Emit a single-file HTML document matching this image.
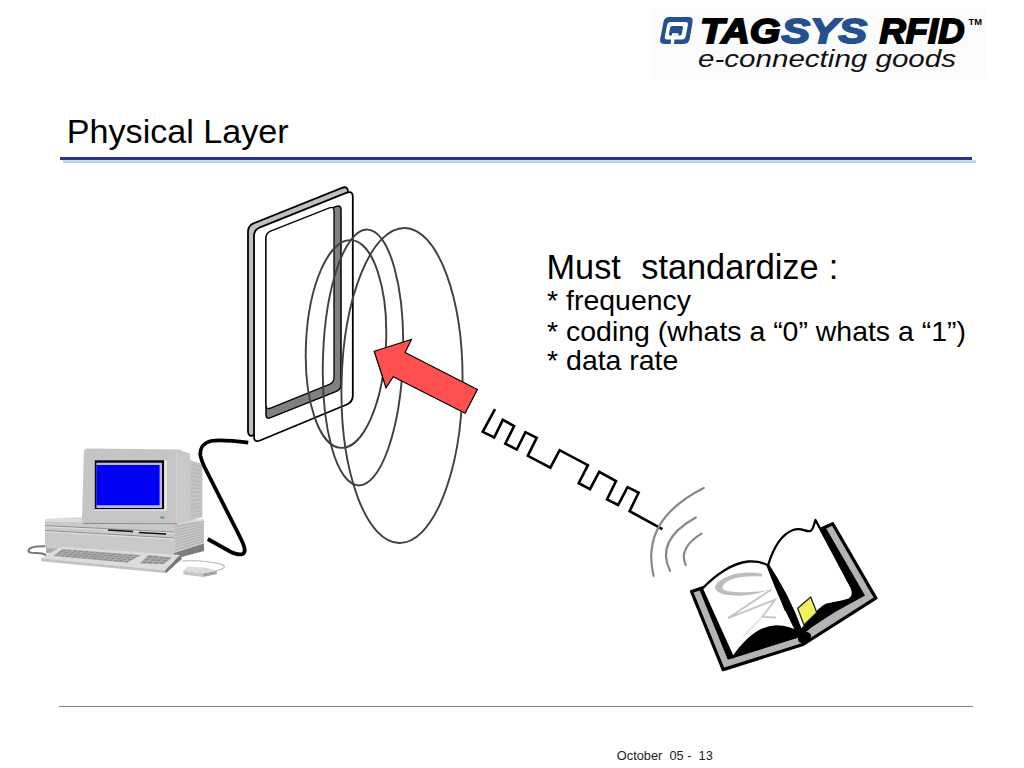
<!DOCTYPE html>
<html><head><meta charset="utf-8">
<style>
html,body{margin:0;padding:0;background:#fff;}
body{width:1024px;height:768px;position:relative;overflow:hidden;font-family:"Liberation Sans",sans-serif;color:#000;}
.t{position:absolute;white-space:nowrap;line-height:1;}
svg{position:absolute;left:0;top:0;}
</style></head><body>
<svg width="1024" height="768" viewBox="0 0 1024 768">
<!-- LOGO -->
<rect x="651.5" y="8" width="335.5" height="71.5" fill="#fbfbfb"/>
<g id="qicon">
  <path d="M663.5,21.8 Q664.5,16.9 669.5,16.9 L688.5,16.9 Q693.5,16.9 692.6,21.8 L689.7,39.0 Q688.8,43.9 683.8,43.9 L664.2,43.9 Q659.2,43.9 660.2,39.0 Z" fill="#24508f"/>
  <path d="M667.1,25.0 Q667.7,22.1 670.7,22.1 L685.5,22.1 Q688.5,22.1 687.9,25.0 L685.6,36.5 Q685.0,39.4 682.0,39.4 L667.2,39.4 Q664.2,39.4 664.8,36.5 Z" fill="#fff"/>
  <path d="M670.2,27.6 Q670.5,26.1 672.0,26.1 L681.8,26.1 Q683.3,26.1 683.0,27.6 L681.8,33.9 Q681.5,35.4 680.0,35.4 L670.1,35.4 Q668.6,35.4 668.9,33.9 Z" fill="#24508f"/>
  <polygon points="672.2,33.3 678.6,33.3 678.2,35.8 671.7,35.8" fill="#fff"/>
  <polygon points="671.2,38.8 674.6,38.8 673.9,44.6 670.5,44.6" fill="#fff"/>
</g>
<g font-family="Liberation Sans" font-weight="bold" font-style="italic" font-size="35">
  <text x="700" y="42.8" textLength="80.5" lengthAdjust="spacingAndGlyphs" fill="#000" stroke="#000" stroke-width="1.8">TAG</text>
  <text x="781.5" y="42.8" textLength="85.5" lengthAdjust="spacingAndGlyphs" fill="#24508f" stroke="#24508f" stroke-width="1.8">SYS</text>
  <text x="879.5" y="42.8" textLength="85" lengthAdjust="spacingAndGlyphs" fill="#000" stroke="#000" stroke-width="1.8">RFID</text>
  <text x="968.5" y="25.3" font-size="8.5" font-style="normal" textLength="13.5" lengthAdjust="spacingAndGlyphs" fill="#000">TM</text>
</g>
<text x="698" y="67.2" font-family="Liberation Sans" font-style="italic" font-size="24" textLength="258" lengthAdjust="spacingAndGlyphs" fill="#111">e-connecting goods</text>
<!-- COMPUTER -->
<g id="computer">
  <!-- left cord -->
  <path d="M47,546.3 C38,546 29,547 28.5,550.5 C28,554 36,552.5 42,553.5 C45,554 47,556 49,557" fill="none" stroke="#777" stroke-width="2"/>
  <!-- base recess -->
  <polygon points="46,543 60,544 60,554 46,553" fill="#a9a9a9"/>
  <!-- base side -->
  <polygon points="174,524 204,519.5 204,543.5 174,553" fill="#c8c8c8"/>
  <g stroke="#a9a9a9" stroke-width="0.8">
  <line x1="175" y1="526.9" x2="203.5" y2="521.9"/>
  <line x1="175" y1="529.8" x2="203.5" y2="524.3"/>
  <line x1="175" y1="532.7" x2="203.5" y2="526.7"/>
  <line x1="175" y1="535.6" x2="203.5" y2="529.1"/>
  <line x1="175" y1="538.5" x2="203.5" y2="531.5"/>
  <line x1="175" y1="541.4" x2="203.5" y2="533.9"/>
  <line x1="175" y1="544.3" x2="203.5" y2="536.3"/>
  <line x1="175" y1="547.2" x2="203.5" y2="538.7"/>
  <line x1="175" y1="550.1" x2="203.5" y2="541.1"/>
  </g>
  <polygon points="174,553 204,543.5 204,551 181.5,557 166,571 166,573 174,566" fill="#7c7c7c"/>
  <!-- base front -->
  <polygon points="45,519 174,522.5 174,557 45,548" fill="#c9c9c9"/>
  <polygon points="45,519 96,516 174,520.5 204,519 204,520.5 174,524.5 45,521.5" fill="#dcdcdc"/>
  <path d="M45,525.6 L174,532 M45,530.5 L174,538" stroke="#8a8a8a" stroke-width="0.9" fill="none"/>
  <path d="M45,526.8 L174,533.2 M45,531.7 L174,539.2" stroke="#e6e6e6" stroke-width="0.8" fill="none"/>
  <path d="M108,530 L133,531.5 M139,532.5 L166,534" stroke="#111" stroke-width="1.6"/>
  <!-- monitor side -->
  <polygon points="190,459.9 202.4,464 202.4,517.3 190,520.8" fill="#c4c4c4"/>
  <g stroke="#b2b2b2" stroke-width="0.7">
  <line x1="190.5" y1="464.0" x2="202" y2="467.6"/>
  <line x1="190.5" y1="468.0" x2="202" y2="471.1"/>
  <line x1="190.5" y1="472.1" x2="202" y2="474.7"/>
  <line x1="190.5" y1="476.1" x2="202" y2="478.2"/>
  <line x1="190.5" y1="480.2" x2="202" y2="481.8"/>
  <line x1="190.5" y1="484.3" x2="202" y2="485.3"/>
  <line x1="190.5" y1="488.3" x2="202" y2="488.9"/>
  <line x1="190.5" y1="492.4" x2="202" y2="492.4"/>
  <line x1="190.5" y1="496.4" x2="202" y2="496.0"/>
  <line x1="190.5" y1="500.5" x2="202" y2="499.5"/>
  <line x1="190.5" y1="504.6" x2="202" y2="503.1"/>
  <line x1="190.5" y1="508.6" x2="202" y2="506.6"/>
  <line x1="190.5" y1="512.7" x2="202" y2="510.2"/>
  <line x1="190.5" y1="516.7" x2="202" y2="513.7"/>
  </g>
  <!-- monitor front -->
  <path d="M82,521 L83.8,452.5 Q84,448.5 88,448.5 L179,449.4 L190.1,454 L190.1,520.8 L176.6,523.7 L84,523.2 Z" fill="#c5c5c5"/>
  <path d="M176.6,452 L190.1,454 L190.1,520.8 L176.6,523.7 Z" fill="#c9c9c9"/>
  <line x1="176.6" y1="452" x2="176.6" y2="523.5" stroke="#d6d6d6" stroke-width="0.7"/>
  <line x1="83" y1="523.4" x2="177" y2="523.8" stroke="#8c8c8c" stroke-width="1"/>
  <polygon points="94.8,460.3 164.3,460.3 164.3,509.3 94.8,509.3" fill="#0a0a0a"/>
  <polygon points="164.3,460.3 166.7,460.3 166.7,511 164.3,511" fill="#eeeeee"/>
  <polygon points="94.8,509.3 166.7,509.3 166.7,511 94.8,511" fill="#dddddd"/>
  <polygon points="96.4,462.7 162,462.7 162,508 96.4,508" fill="#b8b8f8"/>
  <polygon points="96.4,464.9 159.6,464.9 159.6,505.2 96.4,505.2" fill="#0000f2"/>
  <rect x="160.2" y="516.5" width="4.1" height="2" fill="#5aa05a"/>
  <!-- keyboard -->
  <polygon points="60.7,546.8 180.3,555.1 165.2,570.3 41,558.2" fill="#dcdcdc"/>
  <polygon points="41,558.2 165.2,570.3 165.2,573 41,561.2" fill="#c2c2c2"/>
  <polygon points="180.3,555.1 165.2,570.3 165.2,573 182,559" fill="#767676"/>
  <polygon points="62.2,549.1 141.0,555.1 127.3,562.7 53.2,555.9" fill="#b4b4b4"/>
  <polygon points="148.5,555.1 172.0,557.4 163.7,564.2 139.5,563.5" fill="#b4b4b4"/>
  <g fill="#8e8e8e">
<polygon points="62.5,549.4 66.8,549.7 65.2,550.9 61.0,550.6"/>
<polygon points="68.1,549.8 72.4,550.2 70.7,551.4 66.5,551.0"/>
<polygon points="73.8,550.3 78.0,550.6 76.3,551.8 72.1,551.5"/>
<polygon points="79.4,550.7 83.6,551.0 81.9,552.2 77.6,551.9"/>
<polygon points="85.0,551.1 89.3,551.5 87.4,552.7 83.2,552.4"/>
<polygon points="90.6,551.6 94.9,551.9 93.0,553.1 88.8,552.8"/>
<polygon points="96.2,552.0 100.5,552.3 98.5,553.6 94.3,553.2"/>
<polygon points="101.8,552.4 106.1,552.8 104.1,554.0 99.9,553.7"/>
<polygon points="107.4,552.9 111.7,553.2 109.7,554.4 105.4,554.1"/>
<polygon points="113.1,553.3 117.3,553.6 115.2,554.9 111.0,554.6"/>
<polygon points="118.7,553.7 122.9,554.1 120.8,555.3 116.5,555.0"/>
<polygon points="124.3,554.2 128.6,554.5 126.3,555.8 122.1,555.4"/>
<polygon points="129.9,554.6 134.2,554.9 131.9,556.2 127.7,555.9"/>
<polygon points="135.5,555.0 139.8,555.3 137.4,556.7 133.2,556.3"/>
<polygon points="60.3,551.1 64.5,551.5 62.9,552.6 58.7,552.3"/>
<polygon points="65.8,551.6 70.0,551.9 68.3,553.1 64.2,552.7"/>
<polygon points="71.3,552.0 75.5,552.3 73.8,553.5 69.7,553.2"/>
<polygon points="76.9,552.5 81.1,552.8 79.3,554.0 75.1,553.7"/>
<polygon points="82.4,552.9 86.6,553.2 84.8,554.5 80.6,554.1"/>
<polygon points="87.9,553.3 92.1,553.7 90.2,554.9 86.1,554.6"/>
<polygon points="93.5,553.8 97.7,554.1 95.7,555.4 91.6,555.0"/>
<polygon points="99.0,554.2 103.2,554.6 101.2,555.8 97.0,555.5"/>
<polygon points="104.5,554.7 108.7,555.0 106.7,556.3 102.5,555.9"/>
<polygon points="110.0,555.1 114.3,555.5 112.1,556.7 108.0,556.4"/>
<polygon points="115.6,555.6 119.8,555.9 117.6,557.2 113.4,556.8"/>
<polygon points="121.1,556.0 125.3,556.4 123.1,557.6 118.9,557.3"/>
<polygon points="126.6,556.5 130.8,556.8 128.6,558.1 124.4,557.7"/>
<polygon points="132.2,556.9 136.4,557.2 134.0,558.5 129.9,558.2"/>
<polygon points="58.0,552.8 62.1,553.2 60.5,554.3 56.4,554.0"/>
<polygon points="63.5,553.3 67.6,553.6 65.9,554.8 61.8,554.5"/>
<polygon points="68.9,553.7 73.0,554.1 71.3,555.3 67.2,554.9"/>
<polygon points="74.3,554.2 78.5,554.5 76.7,555.8 72.6,555.4"/>
<polygon points="79.8,554.7 83.9,555.0 82.1,556.2 78.0,555.9"/>
<polygon points="85.2,555.1 89.4,555.5 87.5,556.7 83.4,556.3"/>
<polygon points="90.7,555.6 94.8,555.9 92.9,557.2 88.8,556.8"/>
<polygon points="96.1,556.0 100.3,556.4 98.3,557.6 94.2,557.3"/>
<polygon points="101.6,556.5 105.7,556.8 103.7,558.1 99.6,557.7"/>
<polygon points="107.0,557.0 111.2,557.3 109.1,558.6 105.0,558.2"/>
<polygon points="112.5,557.4 116.6,557.8 114.4,559.0 110.3,558.7"/>
<polygon points="117.9,557.9 122.1,558.2 119.8,559.5 115.7,559.2"/>
<polygon points="123.4,558.3 127.5,558.7 125.2,560.0 121.1,559.6"/>
<polygon points="128.8,558.8 133.0,559.1 130.6,560.4 126.5,560.1"/>
<polygon points="55.7,554.5 59.8,554.9 58.2,556.1 54.2,555.7"/>
<polygon points="61.1,555.0 65.2,555.4 63.5,556.5 59.5,556.2"/>
<polygon points="66.5,555.5 70.5,555.8 68.8,557.0 64.8,556.7"/>
<polygon points="71.8,555.9 75.9,556.3 74.1,557.5 70.1,557.1"/>
<polygon points="77.2,556.4 81.3,556.8 79.4,558.0 75.4,557.6"/>
<polygon points="82.6,556.9 86.6,557.3 84.7,558.5 80.7,558.1"/>
<polygon points="87.9,557.4 92.0,557.7 90.1,559.0 86.0,558.6"/>
<polygon points="93.3,557.8 97.4,558.2 95.4,559.4 91.3,559.1"/>
<polygon points="98.7,558.3 102.7,558.7 100.7,559.9 96.6,559.6"/>
<polygon points="104.0,558.8 108.1,559.1 106.0,560.4 101.9,560.0"/>
<polygon points="109.4,559.3 113.5,559.6 111.3,560.9 107.2,560.5"/>
<polygon points="114.7,559.7 118.8,560.1 116.6,561.4 112.6,561.0"/>
<polygon points="120.1,560.2 124.2,560.6 121.9,561.9 117.9,561.5"/>
<polygon points="125.5,560.7 129.5,561.0 127.2,562.3 123.2,562.0"/>
<polygon points="148.7,555.6 153.2,556.0 151.2,557.9 146.7,557.5"/>
<polygon points="154.6,556.2 159.1,556.6 157.1,558.3 152.6,558.0"/>
<polygon points="160.5,556.7 165.0,557.1 163.0,558.8 158.5,558.4"/>
<polygon points="166.4,557.3 170.9,557.7 169.0,559.3 164.5,558.9"/>
<polygon points="145.7,558.4 150.3,558.7 148.2,560.6 143.7,560.3"/>
<polygon points="151.7,558.8 156.2,559.1 154.2,560.9 149.7,560.6"/>
<polygon points="157.6,559.2 162.1,559.5 160.2,561.2 155.7,561.0"/>
<polygon points="163.6,559.6 168.1,560.0 166.2,561.5 161.6,561.3"/>
<polygon points="142.8,561.2 147.3,561.4 145.3,563.2 140.7,563.1"/>
<polygon points="148.8,561.5 153.3,561.7 151.3,563.4 146.7,563.3"/>
<polygon points="154.8,561.7 159.3,562.0 157.4,563.6 152.8,563.5"/>
<polygon points="160.8,562.0 165.3,562.3 163.4,563.8 158.8,563.7"/>
  </g>
  <!-- mouse cord -->
  <path d="M182,561 C200,560 228,563 224,567.5 C222,570 218,570 216,570.5" fill="none" stroke="#b4b4b4" stroke-width="1.1"/>
  <!-- mouse -->
  <polygon points="183.3,570.8 187.5,566.7 206,567.5 216.7,570.8 203,573.5" fill="#dcdcdc"/>
  <polygon points="183.3,570.8 203,573.5 203,577 183.3,574.5" fill="#c6c6c6"/>
  <polygon points="203,573.5 216.7,570.8 217,574 203,577" fill="#a4a4a4"/>
</g>
<!-- ANTENNA -->
<g id="antenna" stroke="#000" stroke-linejoin="round">
  <path d="M248.0,232.0 Q248.0,225.5 254.0,223.1 L342.0,187.9 Q348.0,185.5 348.0,192.0 L348.0,390.5 Q348.0,397.0 342.0,399.4 L254.0,435.1 Q248.0,437.5 248.0,431.0 Z" fill="#c0c0c0" stroke-width="1.8"/>
  <path d="M254.0,236.3 Q254.0,229.8 260.0,227.4 L346.8,192.7 Q352.8,190.3 352.8,196.8 L352.8,395.5 Q352.8,402.0 346.8,404.5 L260.0,440.5 Q254.0,443.0 254.0,436.5 Z" fill="#fff" stroke-width="1.8"/>
  <path d="M266.0,238.6 Q266.0,233.6 270.7,231.8 L336.3,206.4 Q341.0,204.6 341.0,209.6 L341.0,384.5 Q341.0,389.5 336.4,391.4 L270.6,417.6 Q266.0,419.5 266.0,414.5 Z" fill="#808080" stroke-width="1.5"/>
  <path d="M266.0,238.1 Q266.0,233.1 270.6,231.2 L329.4,207.9 Q334.0,206.0 334.0,211.0 L334.0,377.5 Q334.0,382.5 329.4,384.4 L270.6,408.1 Q266.0,410.0 266.0,405.0 Z" fill="#fff" stroke-width="1.3"/>
</g>
<!-- ELLIPSES -->
<g fill="none" stroke="#404040" stroke-width="1.9">
  <ellipse cx="346" cy="344" rx="40" ry="104" transform="rotate(2.75 346 344)"/>
  <ellipse cx="363" cy="357.5" rx="40" ry="128" transform="rotate(2 363 357.5)"/>
  <ellipse cx="402" cy="385.5" rx="60.5" ry="157.5" transform="rotate(1 402 385.5)"/>
</g>
<!-- ARROW -->
<path d="M374.2,351.3 L411.4,339.5 L405.1,352.6 L477.4,389.4 L465.1,413.2 L393.3,376.7 L386,387.8 Z" fill="#ff5050" stroke="#000" stroke-width="1.2" stroke-linejoin="miter"/>
<!-- CABLE -->
<path d="M248.3,442.7 C235,441 220,439.5 211,441 C203,443 199.5,449 200.5,456 C201.5,461 203,464 205,468 L239.5,536 C244,545 247,552 242.5,554 C238.5,555.5 235,554 230,551.5 L207.8,539" fill="none" stroke="#000" stroke-width="3.8" stroke-linecap="butt"/>
<!-- SQUARE WAVE -->
<path d="M495,409.2 L482.7,431.8 L494.2,437.5 L502.8,419.9 L514.1,426 L505.3,443.7 L516.8,449.6 L525.4,432.2 L536.7,437.9 L527.8,455.8 L550.4,467.7 L559.6,450.2 L587.9,465.2 L578.7,483.1 L590,489.2 L599.2,471.8 L616,481 L607,499.5 L618.1,505 L627.5,487.2 L638.6,492.7 L629.6,511.2 L662.4,529.2" fill="none" stroke="#000" stroke-width="2.6" stroke-linejoin="miter"/>
<!-- RADIO ARCS -->
<g fill="none" stroke="#888" stroke-width="2.2" stroke-linecap="round">
  <path d="M703.7,487.9 Q640,520 653.6,575.9"/>
  <path d="M695.8,517.5 Q655,540 670,570.8"/>
  <path d="M701.5,533.6 Q678,548 685.8,565.1"/>
</g>
<!-- BOOK -->
<g id="book" stroke-linejoin="round">
  <polygon points="691.5,591.5 723.2,669.6 803,644.5 875.8,598.1 832.7,523.7 821.6,528.8 768,566 701.3,588.2" fill="#b4b4b4" stroke="#000" stroke-width="3.2"/>
  <polygon points="698.9,588.5 727.8,659.8 799.6,637.2 812,627 835.5,611.8 865,595.5 825.8,527.7 768,566" fill="#000"/>
  <!-- left page -->
  <path d="M702,589 C716,574 733,563 748,561.5 C757,561 764,563 768,565.5 C774,585 784,606 797,632 C793,629 786,626.5 776.4,626.3 C760,626.5 745,640 733,657.4 Z" fill="#fff" stroke="#000" stroke-width="2.3"/>
  <!-- right page -->
  <path d="M768,565.5 C772,552 780,535 793,530 C802,527 806,532.5 810.5,531 C813.5,529 814,524 815.5,520 L851.8,588 Q855,596 849,599.5 C845,601 834,603 826.4,604.7 C818,608 812,619 801,630.5 C796,620 787,598 776,578 Z" fill="#fff" stroke="#000" stroke-width="2.3"/>
  <!-- spine lens -->
  <path d="M768,565.5 C776,585 784,600 793.5,611 C797,618 800,626 801,632 C794,621 789,610 784.7,610.7 C781,600 775,585 768,565.5 Z" fill="#000"/>
  <path d="M768,565.5 C778,582 790,600 801,631.5 C792,618 782,600 768,565.5 Z" fill="#000" stroke="#000" stroke-width="3"/>
  <ellipse cx="804.5" cy="637.5" rx="7" ry="5" fill="#000" transform="rotate(-30 804.5 637.5)"/>
  <!-- scribble -->
  <path d="M762,573.8 C752,572 740,572 730,575.5 C719,579.5 714,585 715.5,589 C717,594 728,595.8 740.1,595.7 C752,595.5 762,592 769.5,589.9 C760,591.5 750,592.5 740.1,592.2 C730,592 722,591 722.5,587.5 C723,583 730,579 740.1,577.2 C748,576 756,576 762,576.5 Z" fill="#bdbdbd"/>
  <path d="M771.3,589.5 L728.2,618.1 L775.1,599.7 L762.4,616.8 L775.8,617.5" fill="none" stroke="#c4c4c4" stroke-width="1.8" stroke-linejoin="miter"/>
  <path d="M762.4,617 L743.4,635.9" fill="none" stroke="#dddddd" stroke-width="1.4"/>
  <!-- tag -->
  <polygon points="797.7,608.2 810.7,597 816.8,612.5 803.9,624.9" fill="#f0f060" stroke="#222" stroke-width="1.3"/>
</g>
</svg>
<div class="t" id="title" style="left:66.8px;top:114.2px;font-size:34.13px;">Physical Layer</div>
<div style="position:absolute;left:60.3px;top:156.6px;width:911.5px;height:3.3px;background:#2f3288;"></div>
<div style="position:absolute;left:63px;top:159.9px;width:913px;height:3px;background:linear-gradient(#c8e4ee,#b2cfd2);"></div>
<div class="t" id="must" style="left:546.5px;top:249.7px;font-size:34.3px;word-spacing:0.7px;">Must&nbsp; standardize :</div>
<div class="t" id="l1" style="left:547.1px;top:286.1px;font-size:28.44px;">* frequency</div>
<div class="t" id="l2" style="left:547.1px;top:316.6px;font-size:28.44px;">* coding (whats a “0” whats a “1”)</div>
<div class="t" id="l3" style="left:547.1px;top:346.4px;font-size:28.44px;">* data rate</div>
<div style="position:absolute;left:59px;top:706px;width:914px;height:1px;background:#7e7e7e;"></div>
<div class="t" id="foot" style="left:616.8px;top:750px;font-size:12.8px;color:#222;">October&nbsp; 05 -&nbsp; 13</div>
</body></html>
